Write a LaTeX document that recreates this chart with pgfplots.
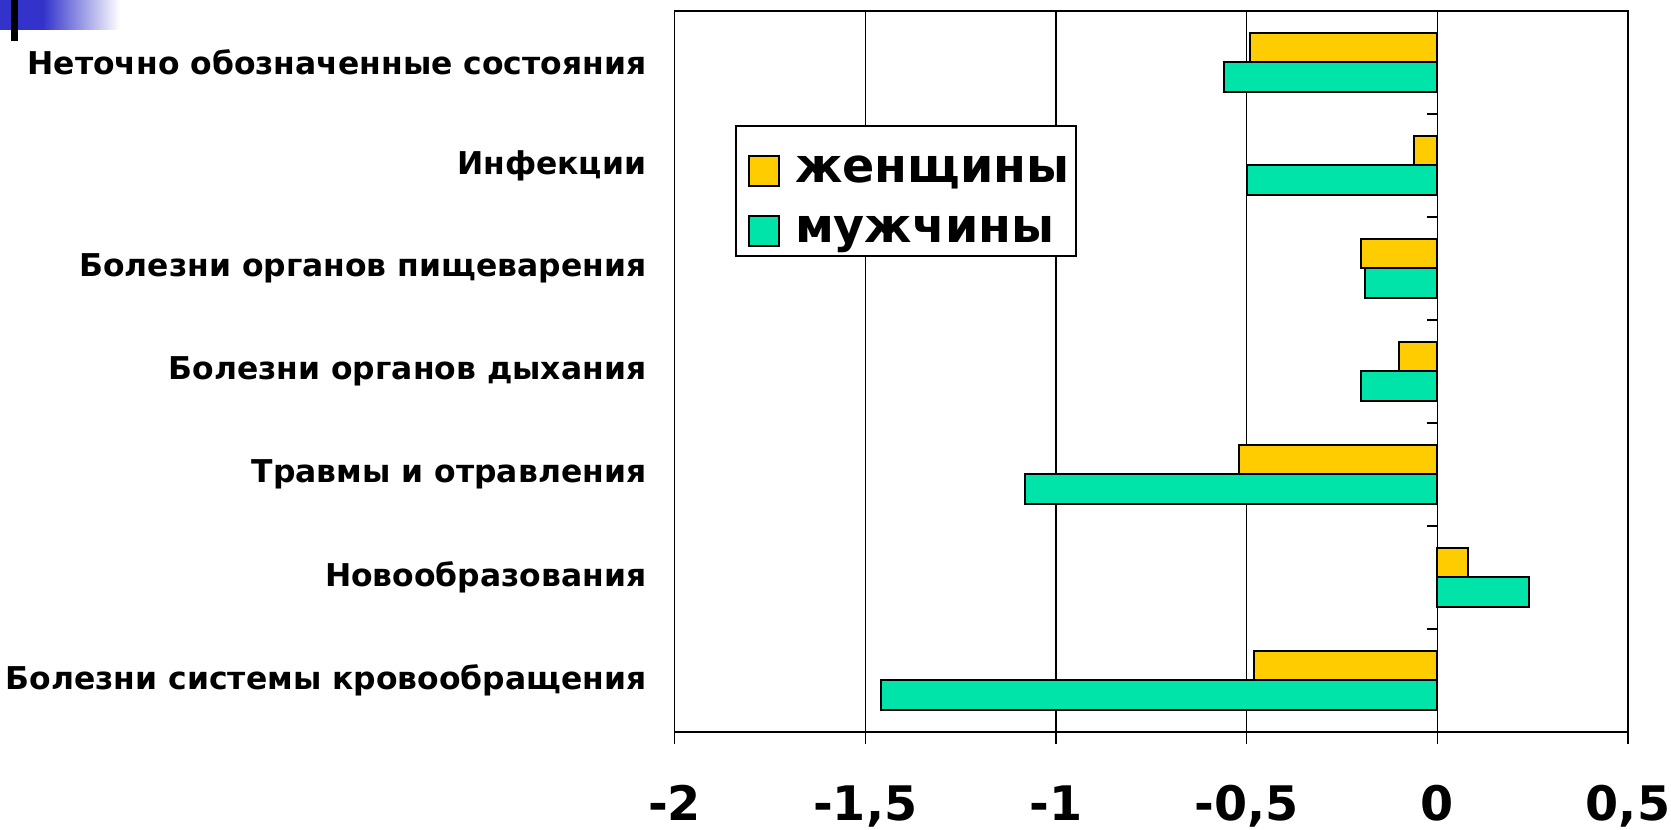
\documentclass[border=0pt]{standalone}
\usepackage{fontspec}
\setmainfont{DejaVu Sans}
\usepackage{pgfplots}
\usepackage{pgfplotstable}
\pgfplotsset{compat=1.18}

\definecolor{zhen}{RGB}{255,204,0}
\definecolor{muzh}{RGB}{0,228,170}
\definecolor{slideblue}{RGB}{51,51,204}

% change in mortality by cause, top row first
\pgfplotstableread{
idx zhen muzh
0 -0.49 -0.56
1 -0.06 -0.50
2 -0.20 -0.19
3 -0.10 -0.20
4 -0.52 -1.08
5 0.08 0.24
6 -0.48 -1.46
}\causes

\begin{document}
\begin{tikzpicture}
\useasboundingbox (0,0) rectangle (835.5pt,415pt);
% slide decoration, top left
\fill[slideblue] (0,400pt) rectangle (21.5pt,415pt);
\shade[left color=slideblue,right color=white] (21.4pt,400pt) rectangle (60pt,415pt);
\fill[black] (5.5pt,394.5pt) rectangle (9pt,415pt);
\begin{axis}[
    at={(337.3pt,49pt)}, anchor=south west,
    width=476.7pt, height=360.6pt, scale only axis,
    xbar=0pt, bar width=14.6pt,
    y dir=reverse,
    xmin=-2, xmax=0.5, ymin=-0.5, ymax=6.5,
    xtick={-2,-1.5,-1,-0.5,0,0.5},
    xticklabels={-2,{-1,5},-1,{-0,5},0,{0,5}},
    ytick={0,1,2,3,4,5,6},
    yticklabels={Неточно обозначенные состояния, Инфекции,
        Болезни органов пищеварения, Болезни органов дыхания,
        Травмы и отравления, Новообразования,
        Болезни системы кровообращения},
    xtick pos=bottom, tick align=outside, major tick length=6pt,
    ytick style={draw=none},
    xtick style={black, line width=0.7pt},
    xmajorgrids, grid style={black, line width=0.65pt},
    axis line style={line width=0.8pt},
    xticklabel style={font=\fontsize{23.8}{28}\selectfont\bfseries, anchor=base, inner sep=0pt, yshift=-38.3pt},
    yticklabel style={font=\fontsize{15.7}{18}\selectfont\bfseries, anchor=east, inner sep=0pt, xshift=-8pt},
    legend style={at={(0.0634,0.842)}, anchor=north west, draw=black, line width=1pt,
        font=\fontsize{23.8}{28}\selectfont\bfseries, row sep=1.4pt, inner xsep=6pt, inner ysep=3.4pt},
    legend cell align=left,
    legend image code/.code={
        \draw[#1, line width=1pt] (0pt,-7.5pt) rectangle (15pt,7.5pt);
        \path[draw=none, fill=none] (0pt,19.2pt) rectangle (21pt,0pt);},
]
\addplot[fill=zhen, draw=black, line width=1pt, bar shift=7.3pt] table[x=zhen, y=idx] {\causes};
\addplot[fill=muzh, draw=black, line width=1pt, bar shift=-7.3pt] table[x=muzh, y=idx] {\causes};
\legend{женщины\hspace*{-4.5pt}, мужчины}
\pgfplotsinvokeforeach{0.5,1.5,2.5,3.5,4.5,5.5}{
    \draw[line width=0.9pt] (axis cs:0,#1) -- ++(-5.3pt,0pt);
}
\end{axis}
\end{tikzpicture}
\end{document}
